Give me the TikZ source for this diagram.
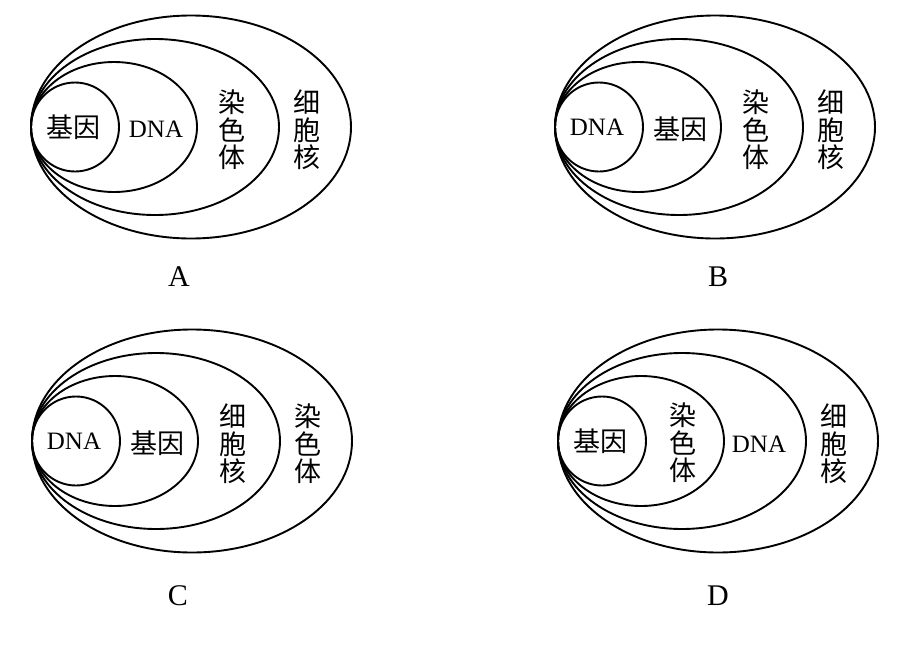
\documentclass[tikz,border=0pt]{standalone}
\usepackage{fontspec}
\setmainfont{Liberation Serif}
\newfontfamily\zh{Noto Sans CJK SC}
\newcommand\dna{{\rmfamily\fontsize{25}{30}\selectfont DNA}}
\begin{document}
\begin{tikzpicture}[x=1pt,y=-1pt,
    ring/.style={line width=1.9pt},
    term/.style={font=\zh\fontsize{27}{27.5}\selectfont,align=center,inner sep=0pt},
    panel/.style={font=\fontsize{30}{32}\selectfont,inner sep=0pt}]
  \useasboundingbox (0,0) rectangle (908,656);
  % one panel: left tangent point, centre line, four labels, panel letter
  \foreach \px/\py/\la/\lb/\lc/\ld/\pn/\lx/\ly in {
      31/127/基因/\dna/染\\色\\体/细\\胞\\核/A/179/277,
      555/127/\dna/基因/染\\色\\体/细\\胞\\核/B/718/277,
      32/441/\dna/基因/细\\胞\\核/染\\色\\体/C/178/596,
      558/441/基因/染\\色\\体/\dna/细\\胞\\核/D/718/596}{
    \foreach \rx/\ry in {44/44.5, 83/65, 124/88, 160/111.5}
      \draw[ring] (\px+\rx,\py) ellipse [x radius=\rx pt, y radius=\ry pt];
    \node[term] (\pn-1) at (\px+42,\py) {\la};
    \node[term] (\pn-2) at (\px+125,\py+2) {\lb};
    \node[term] (\pn-3) at (\px+201,\py+3) {\lc};
    \node[term] (\pn-4) at (\px+276,\py+3) {\ld};
    \node[panel] (lbl-\pn) at (\lx,\ly) {\pn};
  }
\end{tikzpicture}
\end{document}
